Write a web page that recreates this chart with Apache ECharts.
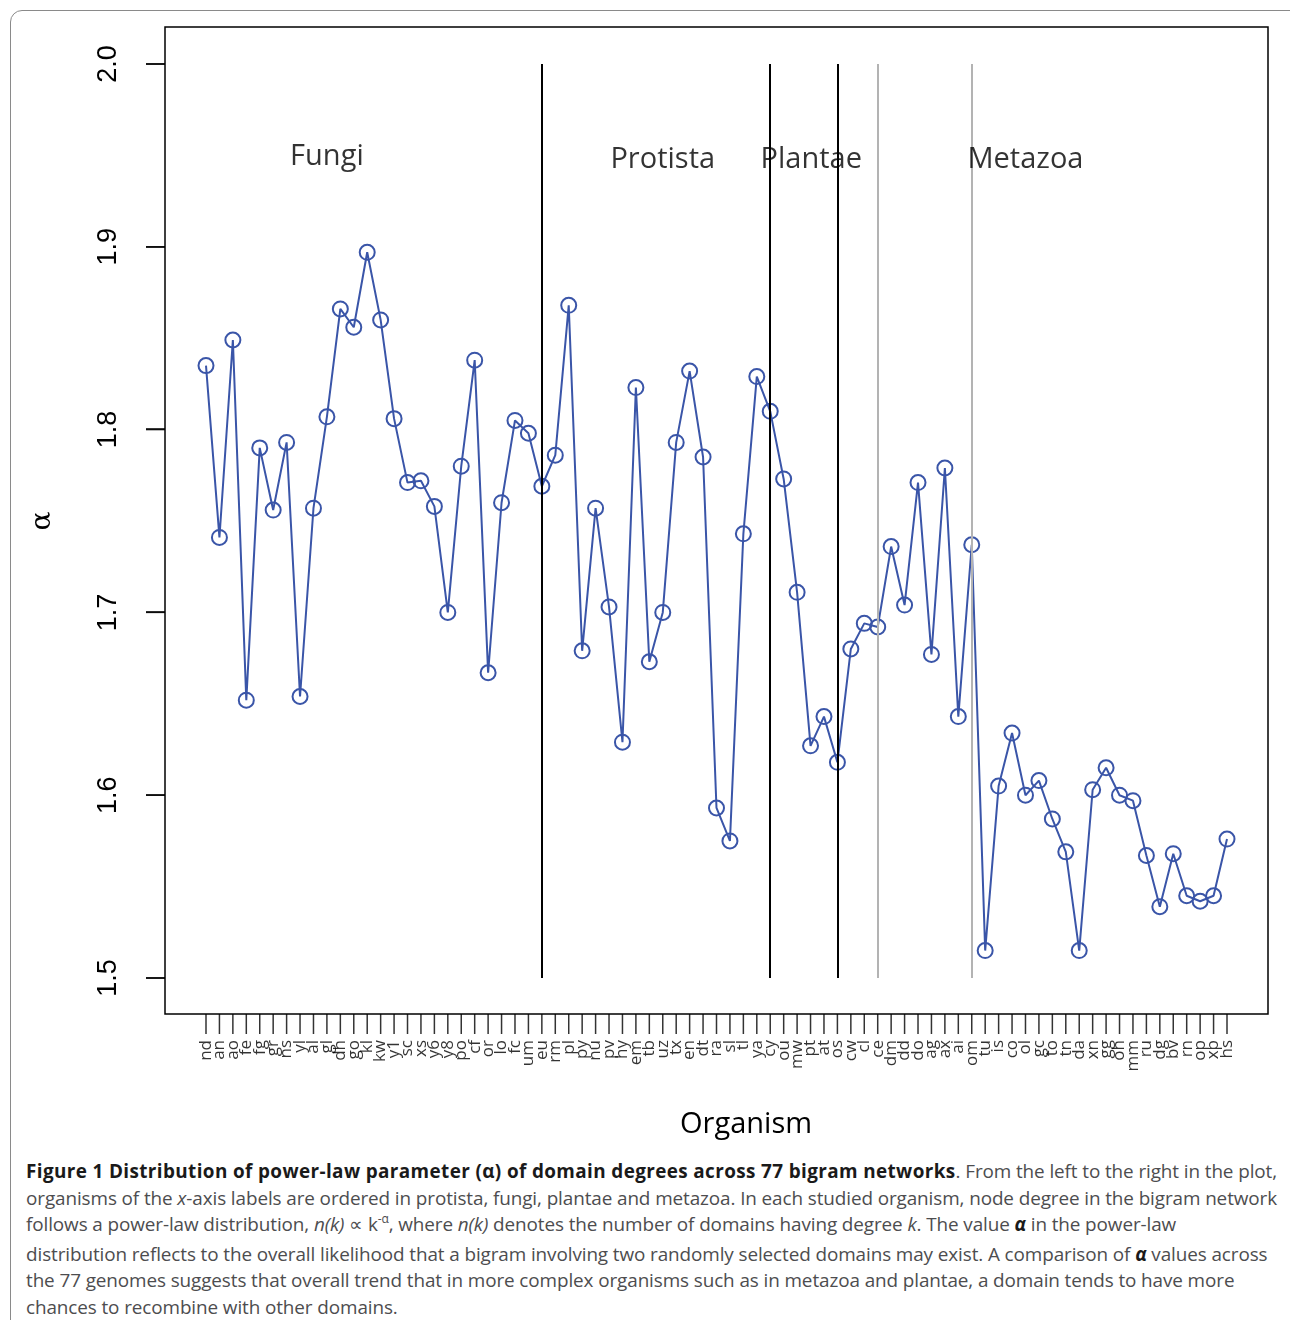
<!DOCTYPE html>
<html>
<head>
<meta charset="utf-8">
<script src="https://cdn.jsdelivr.net/npm/echarts@6/dist/echarts.min.js"></script>
<style>
  html, body { margin: 0; padding: 0; background: #fff; overflow: hidden; }
  #wrap { position: relative; width: 1290px; height: 1320px; }
  #frame { position: absolute; left: 10px; top: 10px; width: 1300px; height: 1340px;
           border: 1.5px solid #8a8a8a; border-radius: 12px; box-sizing: border-box; }
  #chart { position: absolute; left: 0; top: 0; width: 1290px; height: 1150px; }
  #caption { position: absolute; left: 26px; top: 1158px; font-family: "Open Sans", sans-serif;
             font-size: 18.9px; color: #4d4d4f; line-height: 26.6px; letter-spacing: -0.1px; }
  #caption div { white-space: nowrap; }
  #caption b { color: #1a1a1a; }
  #caption .sup { font-size: 12px; position: relative; top: -8px; }
</style>
</head>
<body>
<div id="wrap">
  <div id="frame"></div>
  <div id="chart"></div>
  <div id="caption">
    <div><b style="letter-spacing:0.38px">Figure 1 Distribution of power-law parameter (α) of domain degrees across 77 bigram networks</b>. From the left to the right in the plot,</div>
    <div>organisms of the <i>x</i>-axis labels are ordered in protista, fungi, plantae and metazoa. In each studied organism, node degree in the bigram network</div>
    <div>follows a power-law distribution, <i>n(k)</i> ∝ k<span class="sup">-α</span>, where <i>n(k)</i> denotes the number of domains having degree <i>k</i>. The value <b><i>α</i></b> in the power-law</div>
    <div>distribution reflects to the overall likelihood that a bigram involving two randomly selected domains may exist. A comparison of <b><i>α</i></b> values across</div>
    <div>the 77 genomes suggests that overall trend that in more complex organisms such as in metazoa and plantae, a domain tends to have more</div>
    <div>chances to recombine with other domains.</div>
  </div>
</div>
<script>
// organism codes, in plot order
const organisms = ['nd','an','ao','fe','fg','gr','ns','yl','al','gl','dh','go','kl','kw','y1','sc','xs','y6','y8','po','cf','or','lo','fc','um','eu',
  'rm','pl','py','nu','pv','hy','em','tb','uz','tx','en','dt','ra','sl','tl','ya','cy','ou','mw','pt','at','os','cw','cl','ce','dm',
  'dd','do','ag','ax','ai','om','tu','is','co','ol','gc','to','tn','da','xn','gg','oh','mm','ru','dg','bv','rn','op','xp','hs'];

// power-law alpha per organism
const alpha = [1.835,1.741,1.849,1.652,1.790,1.756,1.793,1.654,1.757,1.807,1.866,1.856,1.897,1.860,1.806,1.771,1.772,1.758,1.700,1.780,1.838,1.667,1.760,1.805,1.798,1.769,
  1.786,1.868,1.679,1.757,1.703,1.629,1.823,1.673,1.700,1.793,1.832,1.785,1.593,1.575,1.743,1.829,1.810,1.773,1.711,1.627,1.643,1.618,1.680,1.694,1.692,1.736,
  1.704,1.771,1.677,1.779,1.643,1.737,1.515,1.605,1.634,1.600,1.608,1.587,1.569,1.515,1.603,1.615,1.600,1.597,1.567,1.539,1.568,1.545,1.542,1.545,1.576];

// group separators (1-based position) and their colours
const dividerPos = [26, 43, 48, 51, 58];
const dividerColor = ['#000', '#000', '#000', '#b3b3b3', '#b3b3b3'];

// group labels
const groupNames = ['Fungi', 'Protista', 'Plantae', 'Metazoa'];
const groupX = [10.0, 35.0, 46.05, 62.0];
const groupY = [1.9490, 1.9475, 1.9475, 1.9475];

const yTicks = [1.5, 1.6, 1.7, 1.8, 1.9, 2.0];

// R adds 4% on each side of the y range
const yPad = (yTicks[yTicks.length - 1] - yTicks[0]) * 0.04;

const chart = echarts.init(document.getElementById('chart'), null, { renderer: 'canvas' });

const font = 'Open Sans';

chart.setOption({
  animation: false,
  grid: [
    // data area: x 1..77, y 1.5..2.0
    { left: 206, top: 64, width: 1021, height: 914, outerBoundsMode: 'none', containLabel: false },
    // plot frame
    { left: 165, top: 27, width: 1103, height: 987, show: true, borderColor: '#000', borderWidth: 1.5,
      backgroundColor: 'transparent', outerBoundsMode: 'none', containLabel: false }
  ],
  xAxis: [
    { type: 'value', gridIndex: 0, min: 1, max: organisms.length, show: false },
    { type: 'value', gridIndex: 1, min: 0, max: 1, axisLine: { show: false }, axisTick: { show: false },
      axisLabel: { show: false }, splitLine: { show: false } }
  ],
  yAxis: [
    {
      type: 'value', gridIndex: 0, min: yTicks[0], max: yTicks[yTicks.length - 1], interval: 0.1, offset: 41,
      axisLine: { show: false, onZero: false },
      axisTick: { show: false },
      splitLine: { show: false },
      axisLabel: {
        rotate: 90, margin: 43, fontSize: 27, color: '#000', fontFamily: 'Liberation Sans',
        formatter: v => v.toFixed(1)
      },
      name: 'α', nameLocation: 'middle', nameRotate: 90, nameGap: 108,
      nameTextStyle: { fontSize: 28, color: '#000', fontFamily: 'DejaVu Serif' }
    },
    {
      // ticks only, on the frame's left edge (x = 0 of the frame grid)
      type: 'value', gridIndex: 1, min: yTicks[0] - yPad, max: yTicks[yTicks.length - 1] + yPad,
      axisLine: { show: false, onZero: true },
      axisTick: { show: true, inside: false, length: 19, customValues: yTicks, lineStyle: { color: '#000', width: 1.5 } },
      axisLabel: { show: false },
      splitLine: { show: false }
    }
  ],
  series: [
    {
      type: 'line', xAxisIndex: 0, yAxisIndex: 0,
      data: alpha.map((a, i) => [i + 1, a]),
      symbol: 'circle', symbolSize: 15, showAllSymbol: true,
      lineStyle: { color: '#3a55a8', width: 2 },
      itemStyle: { color: 'rgba(0,0,0,0)', borderColor: '#3a55a8', borderWidth: 2 },
      z: 3,
      markLine: {
        silent: true, symbol: 'none', label: { show: false },
        data: dividerPos.map((p, i) => ({ xAxis: p, lineStyle: { color: dividerColor[i], width: 2, type: 'solid' } }))
      }
    },
    {
      // organism ticks and labels under the frame
      type: 'scatter', xAxisIndex: 0, yAxisIndex: 0, silent: true, clip: false,
      data: organisms.map((o, i) => ({ name: o, value: [i + 1, yTicks[0]] })),
      symbol: 'rect', symbolSize: [1.5, 20], symbolOffset: [0, 46],
      itemStyle: { color: '#000' },
      label: {
        show: true, formatter: p => p.name, position: [0.75, 26], rotate: 90,
        align: 'right', verticalAlign: 'middle', fontSize: 17, color: '#000', fontFamily: font
      },
      labelLayout: { hideOverlap: false }
    },
    {
      // alpha ticks left of the frame
      type: 'scatter', xAxisIndex: 0, yAxisIndex: 0, silent: true, clip: false,
      data: yTicks.map(t => ({ name: t.toFixed(1), value: [1, t] })),
      symbol: 'rect', symbolSize: [19, 1.5], symbolOffset: [-50.5, 0],
      itemStyle: { color: '#000' }
    },
    {
      type: 'scatter', xAxisIndex: 0, yAxisIndex: 0, symbolSize: 0, silent: true,
      data: groupNames.map((n, i) => ({ name: n, value: [groupX[i], groupY[i]] })),
      label: { show: true, position: 'inside', formatter: p => p.name, fontSize: 29, color: '#000', fontFamily: font },
      z: 5
    }
  ],
  graphic: [
    { type: 'text', left: 680, top: 1110,
      style: { text: 'Organism', fontSize: 29, fill: '#000', fontFamily: font } }
  ]
});
</script>
</body>
</html>
